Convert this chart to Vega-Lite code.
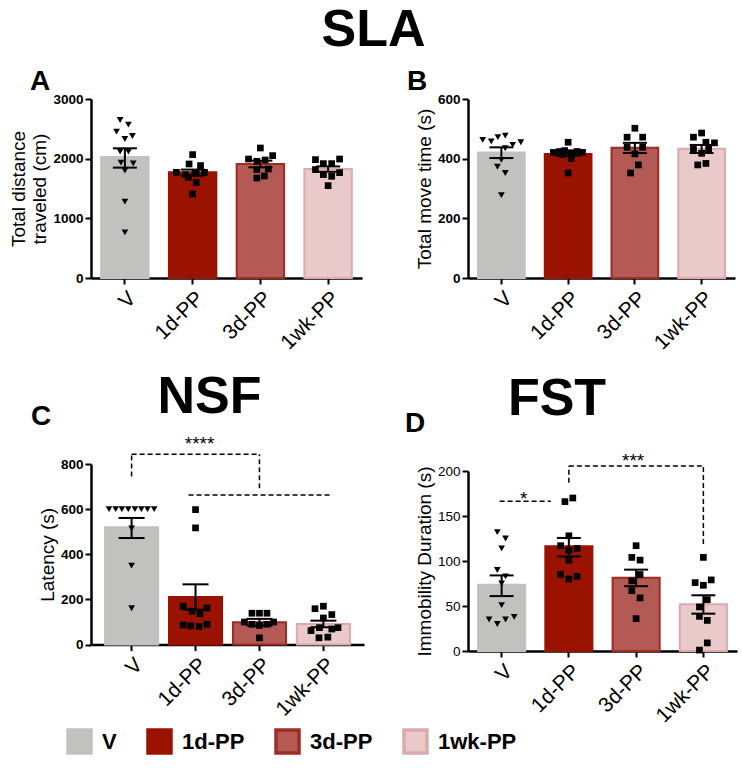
{
  "$schema": "https://vega.github.io/schema/vega-lite/v6.json",
  "padding": {"left": 9, "top": 4, "right": 5, "bottom": 5},
  "background": "white",
  "title": {"text": "SLA", "anchor": "middle", "frame": "bounds", "fontSize": 52, "font": "Liberation Sans", "fontWeight": "bold", "color": "black", "offset": 11},
  "columns": 2,
  "bounds": "flush",
  "spacing": {"row": 186, "column": 106},
  "resolve": {"scale": {"x": "independent", "y": "independent", "xOffset": "independent", "color": "shared", "stroke": "shared"}, "legend": {"color": "shared", "stroke": "shared"}},
  "datasets": {
    "pts": [
      {"p": "A", "g": "V", "v": 2648, "o": -1.2}, {"p": "A", "g": "V", "v": 2571, "o": 0.9}, {"p": "A", "g": "V", "v": 2454, "o": -2.1}, {"p": "A", "g": "V", "v": 2380, "o": 1.9}, {"p": "A", "g": "V", "v": 2330, "o": 0}, {"p": "A", "g": "V", "v": 2118, "o": -1.2}, {"p": "A", "g": "V", "v": 2118, "o": 0.9}, {"p": "A", "g": "V", "v": 1934, "o": -1}, {"p": "A", "g": "V", "v": 1922, "o": 2.1}, {"p": "A", "g": "V", "v": 1800, "o": 0}, {"p": "A", "g": "V", "v": 1280, "o": 0}, {"p": "A", "g": "V", "v": 766, "o": 0},
      {"p": "A", "g": "1d-PP", "v": 2068, "o": 0}, {"p": "A", "g": "1d-PP", "v": 1911, "o": -0.9}, {"p": "A", "g": "1d-PP", "v": 1884, "o": 2}, {"p": "A", "g": "1d-PP", "v": 1771, "o": -4.1}, {"p": "A", "g": "1d-PP", "v": 1755, "o": 0.9}, {"p": "A", "g": "1d-PP", "v": 1771, "o": 3}, {"p": "A", "g": "1d-PP", "v": 1733, "o": -1.8}, {"p": "A", "g": "1d-PP", "v": 1688, "o": -1.1}, {"p": "A", "g": "1d-PP", "v": 1599, "o": 0.9}, {"p": "A", "g": "1d-PP", "v": 1408, "o": 0},
      {"p": "A", "g": "3d-PP", "v": 2179, "o": 0}, {"p": "A", "g": "3d-PP", "v": 2051, "o": 3.1}, {"p": "A", "g": "3d-PP", "v": 1994, "o": -3}, {"p": "A", "g": "3d-PP", "v": 1956, "o": -0.9}, {"p": "A", "g": "3d-PP", "v": 1978, "o": 1.2}, {"p": "A", "g": "3d-PP", "v": 1817, "o": -0.9}, {"p": "A", "g": "3d-PP", "v": 1827, "o": 2}, {"p": "A", "g": "3d-PP", "v": 1676, "o": -0.9}, {"p": "A", "g": "3d-PP", "v": 1710, "o": 1},
      {"p": "A", "g": "1wk-PP", "v": 1984, "o": -3.2}, {"p": "A", "g": "1wk-PP", "v": 1994, "o": 2.9}, {"p": "A", "g": "1wk-PP", "v": 1917, "o": -1.2}, {"p": "A", "g": "1wk-PP", "v": 1917, "o": 0.9}, {"p": "A", "g": "1wk-PP", "v": 1817, "o": -3.2}, {"p": "A", "g": "1wk-PP", "v": 1766, "o": 2.9}, {"p": "A", "g": "1wk-PP", "v": 1733, "o": -1.2}, {"p": "A", "g": "1wk-PP", "v": 1704, "o": 0.9}, {"p": "A", "g": "1wk-PP", "v": 1548, "o": 0},
      {"p": "B", "g": "V", "v": 463, "o": -4.8}, {"p": "B", "g": "V", "v": 458, "o": -2.6}, {"p": "B", "g": "V", "v": 472, "o": -0.9}, {"p": "B", "g": "V", "v": 477, "o": 1}, {"p": "B", "g": "V", "v": 455, "o": 5}, {"p": "B", "g": "V", "v": 446, "o": 2.9}, {"p": "B", "g": "V", "v": 435, "o": 1}, {"p": "B", "g": "V", "v": 396, "o": 0}, {"p": "B", "g": "V", "v": 373, "o": -1}, {"p": "B", "g": "V", "v": 352, "o": 1}, {"p": "B", "g": "V", "v": 278, "o": 0},
      {"p": "B", "g": "1d-PP", "v": 455, "o": 0}, {"p": "B", "g": "1d-PP", "v": 421, "o": -3.8}, {"p": "B", "g": "1d-PP", "v": 424, "o": -2.2}, {"p": "B", "g": "1d-PP", "v": 427, "o": -0.9}, {"p": "B", "g": "1d-PP", "v": 420, "o": 0.8}, {"p": "B", "g": "1d-PP", "v": 424, "o": 2.3}, {"p": "B", "g": "1d-PP", "v": 421, "o": 3.7}, {"p": "B", "g": "1d-PP", "v": 401, "o": 0.8}, {"p": "B", "g": "1d-PP", "v": 414, "o": -1.5}, {"p": "B", "g": "1d-PP", "v": 352, "o": 0},
      {"p": "B", "g": "3d-PP", "v": 502, "o": 0}, {"p": "B", "g": "3d-PP", "v": 472, "o": -2}, {"p": "B", "g": "3d-PP", "v": 472, "o": 2}, {"p": "B", "g": "3d-PP", "v": 438, "o": -2}, {"p": "B", "g": "3d-PP", "v": 438, "o": 2}, {"p": "B", "g": "3d-PP", "v": 416, "o": 0}, {"p": "B", "g": "3d-PP", "v": 379, "o": 0.9}, {"p": "B", "g": "3d-PP", "v": 352, "o": -1.1},
      {"p": "B", "g": "1wk-PP", "v": 486, "o": 0}, {"p": "B", "g": "1wk-PP", "v": 472, "o": -2.1}, {"p": "B", "g": "1wk-PP", "v": 455, "o": 1.1}, {"p": "B", "g": "1wk-PP", "v": 453, "o": 3.3}, {"p": "B", "g": "1wk-PP", "v": 432, "o": -2.1}, {"p": "B", "g": "1wk-PP", "v": 432, "o": 1.8}, {"p": "B", "g": "1wk-PP", "v": 418, "o": 0}, {"p": "B", "g": "1wk-PP", "v": 379, "o": -1}, {"p": "B", "g": "1wk-PP", "v": 384, "o": 1.1},
      {"p": "C", "g": "V", "v": 600, "o": -5.1}, {"p": "C", "g": "V", "v": 600, "o": -3.6}, {"p": "C", "g": "V", "v": 600, "o": -2.2}, {"p": "C", "g": "V", "v": 600, "o": -0.75}, {"p": "C", "g": "V", "v": 600, "o": 0.75}, {"p": "C", "g": "V", "v": 600, "o": 2.2}, {"p": "C", "g": "V", "v": 600, "o": 3.6}, {"p": "C", "g": "V", "v": 600, "o": 5.1}, {"p": "C", "g": "V", "v": 515, "o": 0}, {"p": "C", "g": "V", "v": 350, "o": 0}, {"p": "C", "g": "V", "v": 161, "o": 0},
      {"p": "C", "g": "1d-PP", "v": 598, "o": 0}, {"p": "C", "g": "1d-PP", "v": 517, "o": 0}, {"p": "C", "g": "1d-PP", "v": 170, "o": -2.8}, {"p": "C", "g": "1d-PP", "v": 148, "o": -0.8}, {"p": "C", "g": "1d-PP", "v": 136, "o": 1}, {"p": "C", "g": "1d-PP", "v": 162, "o": 2.6}, {"p": "C", "g": "1d-PP", "v": 87, "o": -2.8}, {"p": "C", "g": "1d-PP", "v": 83, "o": -1.1}, {"p": "C", "g": "1d-PP", "v": 81, "o": 0.8}, {"p": "C", "g": "1d-PP", "v": 90, "o": 2.6},
      {"p": "C", "g": "3d-PP", "v": 139, "o": -1.7}, {"p": "C", "g": "3d-PP", "v": 139, "o": 0}, {"p": "C", "g": "3d-PP", "v": 139, "o": 1.7}, {"p": "C", "g": "3d-PP", "v": 100, "o": -3.4}, {"p": "C", "g": "3d-PP", "v": 90, "o": -1.7}, {"p": "C", "g": "3d-PP", "v": 85, "o": 0}, {"p": "C", "g": "3d-PP", "v": 90, "o": 1.7}, {"p": "C", "g": "3d-PP", "v": 100, "o": 3.2}, {"p": "C", "g": "3d-PP", "v": 30, "o": 0},
      {"p": "C", "g": "1wk-PP", "v": 159, "o": -1.9}, {"p": "C", "g": "1wk-PP", "v": 170, "o": 0}, {"p": "C", "g": "1wk-PP", "v": 133, "o": 1.9}, {"p": "C", "g": "1wk-PP", "v": 118, "o": 0}, {"p": "C", "g": "1wk-PP", "v": 62, "o": -2.8}, {"p": "C", "g": "1wk-PP", "v": 75, "o": -0.9}, {"p": "C", "g": "1wk-PP", "v": 69, "o": 1.9}, {"p": "C", "g": "1wk-PP", "v": 75, "o": 3.3}, {"p": "C", "g": "1wk-PP", "v": 30, "o": -1}, {"p": "C", "g": "1wk-PP", "v": 33, "o": 1},
      {"p": "D", "g": "V", "v": 132, "o": -1.1}, {"p": "D", "g": "V", "v": 125, "o": 1}, {"p": "D", "g": "V", "v": 114, "o": 0}, {"p": "D", "g": "V", "v": 90, "o": -1.1}, {"p": "D", "g": "V", "v": 83, "o": 1}, {"p": "D", "g": "V", "v": 75, "o": 0}, {"p": "D", "g": "V", "v": 51, "o": 0}, {"p": "D", "g": "V", "v": 35, "o": -3.2}, {"p": "D", "g": "V", "v": 30, "o": -1.1}, {"p": "D", "g": "V", "v": 35, "o": 1}, {"p": "D", "g": "V", "v": 38, "o": 3.2},
      {"p": "D", "g": "1d-PP", "v": 166, "o": -1}, {"p": "D", "g": "1d-PP", "v": 170, "o": 1}, {"p": "D", "g": "1d-PP", "v": 128, "o": 0}, {"p": "D", "g": "1d-PP", "v": 117, "o": -2.1}, {"p": "D", "g": "1d-PP", "v": 114, "o": 2.1}, {"p": "D", "g": "1d-PP", "v": 112, "o": 0}, {"p": "D", "g": "1d-PP", "v": 101, "o": 0}, {"p": "D", "g": "1d-PP", "v": 85, "o": -2.1}, {"p": "D", "g": "1d-PP", "v": 80, "o": 0}, {"p": "D", "g": "1d-PP", "v": 83, "o": 2.1},
      {"p": "D", "g": "3d-PP", "v": 117, "o": 0}, {"p": "D", "g": "3d-PP", "v": 104, "o": -1.1}, {"p": "D", "g": "3d-PP", "v": 101, "o": 1}, {"p": "D", "g": "3d-PP", "v": 85, "o": 1}, {"p": "D", "g": "3d-PP", "v": 78, "o": -1.1}, {"p": "D", "g": "3d-PP", "v": 67, "o": -1.1}, {"p": "D", "g": "3d-PP", "v": 59, "o": 1}, {"p": "D", "g": "3d-PP", "v": 36, "o": 0},
      {"p": "D", "g": "1wk-PP", "v": 104, "o": 0}, {"p": "D", "g": "1wk-PP", "v": 76, "o": -2.1}, {"p": "D", "g": "1wk-PP", "v": 73, "o": 0}, {"p": "D", "g": "1wk-PP", "v": 79, "o": 2}, {"p": "D", "g": "1wk-PP", "v": 57, "o": 1}, {"p": "D", "g": "1wk-PP", "v": 49, "o": -1}, {"p": "D", "g": "1wk-PP", "v": 38.5, "o": -1}, {"p": "D", "g": "1wk-PP", "v": 34, "o": 1}, {"p": "D", "g": "1wk-PP", "v": 9, "o": 1}, {"p": "D", "g": "1wk-PP", "v": 1, "o": -1}
    ],
    "bars": [
      {"p": "A", "g": "V", "m": 2030, "lo": 1850, "hi": 2174}, {"p": "A", "g": "1d-PP", "m": 1771, "lo": 1716, "hi": 1817}, {"p": "A", "g": "3d-PP", "m": 1911, "lo": 1855, "hi": 1967}, {"p": "A", "g": "1wk-PP", "m": 1827, "lo": 1780, "hi": 1870},
      {"p": "B", "g": "V", "m": 421, "lo": 402, "hi": 438}, {"p": "B", "g": "1d-PP", "m": 416, "lo": 410, "hi": 423}, {"p": "B", "g": "3d-PP", "m": 437, "lo": 419, "hi": 453}, {"p": "B", "g": "1wk-PP", "m": 433, "lo": 419, "hi": 446},
      {"p": "C", "g": "V", "m": 520, "lo": 472, "hi": 561}, {"p": "C", "g": "1d-PP", "m": 211, "lo": 155, "hi": 267}, {"p": "C", "g": "3d-PP", "m": 99, "lo": 84, "hi": 114}, {"p": "C", "g": "1wk-PP", "m": 91.5, "lo": 77, "hi": 106},
      {"p": "D", "g": "V", "m": 73.7, "lo": 61, "hi": 84}, {"p": "D", "g": "1d-PP", "m": 116.3, "lo": 105, "hi": 125.6}, {"p": "D", "g": "3d-PP", "m": 81.5, "lo": 72, "hi": 90.4}, {"p": "D", "g": "1wk-PP", "m": 51.9, "lo": 41.5, "hi": 61.9}
    ]
  },
  "concat": [
    {
      "width": 271, "height": 179,
      "title": {"text": "A", "anchor": "start", "frame": "group", "dx": -61, "fontSize": 28, "fontWeight": "bold", "color": "black", "offset": -4},
      "resolve": {"scale": {"xOffset": "independent"}},
      "layer": [
        {"data": {"name": "bars"}, "transform": [{"filter": "datum.p === 'A'"}],
         "mark": {"type": "bar", "strokeWidth": 2},
         "encoding": {
           "x": {"field": "g", "type": "nominal", "scale": {"domain": ["V", "1d-PP", "3d-PP", "1wk-PP"], "paddingInner": 0.3, "paddingOuter": 0.15}, "axis": {"title": null}},
           "y": {"field": "m", "type": "quantitative", "title": ["Total distance", "traveled (cm)"], "scale": {"domain": [0, 3000], "nice": false}, "axis": {"values": [0, 1000, 2000, 3000], "format": "d"}},
           "color": {"field": "g", "type": "nominal", "scale": {"domain": ["V", "1d-PP", "3d-PP", "1wk-PP"], "range": ["#c1c1bf", "#991300", "#b35a55", "#e9c9c9"]},
             "legend": {"orient": "none", "legendX": -25, "legendY": 629, "direction": "horizontal", "title": null, "symbolType": "square", "symbolSize": 529, "symbolStrokeWidth": 3.5, "symbolOpacity": 1, "labelFontSize": 22, "labelFont": "Liberation Sans", "labelFontWeight": "bold", "labelColor": "black", "labelOffset": 9, "columnPadding": 24}},
           "stroke": {"field": "g", "type": "nominal", "scale": {"domain": ["V", "1d-PP", "3d-PP", "1wk-PP"], "range": ["#c1c1bf", "#991300", "#a02b22", "#dcaaaa"]}}
         }},
        {"data": {"name": "pts"}, "transform": [{"filter": "datum.p === 'A' && datum.g === 'V'"}],
         "mark": {"type": "point", "shape": "triangle-down", "filled": true, "color": "black", "opacity": 1, "size": 45},
         "encoding": {
           "x": {"field": "g", "type": "nominal", "scale": {"domain": ["V", "1d-PP", "3d-PP", "1wk-PP"], "paddingInner": 0.3, "paddingOuter": 0.15}},
           "xOffset": {"field": "o", "type": "quantitative", "scale": {"domain": [-6, 6]}},
           "y": {"field": "v", "type": "quantitative", "title": ["Total distance", "traveled (cm)"], "scale": {"domain": [0, 3000], "nice": false}}
         }},
        {"data": {"name": "pts"}, "transform": [{"filter": "datum.p === 'A' && datum.g !== 'V'"}],
         "mark": {"type": "point", "shape": "square", "filled": true, "color": "black", "opacity": 1, "size": 45},
         "encoding": {
           "x": {"field": "g", "type": "nominal", "scale": {"domain": ["V", "1d-PP", "3d-PP", "1wk-PP"], "paddingInner": 0.3, "paddingOuter": 0.15}},
           "xOffset": {"field": "o", "type": "quantitative", "scale": {"domain": [-6, 6]}},
           "y": {"field": "v", "type": "quantitative", "title": ["Total distance", "traveled (cm)"], "scale": {"domain": [0, 3000], "nice": false}}
         }},
        {"data": {"name": "bars"}, "transform": [{"filter": "datum.p === 'A'"}],
         "mark": {"type": "rule", "strokeWidth": 2, "color": "black"},
         "encoding": {
           "x": {"field": "g", "type": "nominal", "scale": {"domain": ["V", "1d-PP", "3d-PP", "1wk-PP"], "paddingInner": 0.3, "paddingOuter": 0.15}},
           "y": {"field": "lo", "type": "quantitative", "title": ["Total distance", "traveled (cm)"], "scale": {"domain": [0, 3000], "nice": false}},
           "y2": {"field": "hi"}
         }},
        {"data": {"name": "bars"}, "transform": [{"filter": "datum.p === 'A'"}, {"fold": ["lo", "hi"], "as": ["k", "e"]}],
         "mark": {"type": "tick", "thickness": 2, "size": 24, "color": "black", "opacity": 1},
         "encoding": {
           "x": {"field": "g", "type": "nominal", "scale": {"domain": ["V", "1d-PP", "3d-PP", "1wk-PP"], "paddingInner": 0.3, "paddingOuter": 0.15}},
           "y": {"field": "e", "type": "quantitative", "title": ["Total distance", "traveled (cm)"], "scale": {"domain": [0, 3000], "nice": false}}
         }}
      ]
    },
    {
      "width": 267, "height": 179,
      "title": {"text": "B", "anchor": "start", "frame": "group", "dx": -61, "fontSize": 28, "fontWeight": "bold", "color": "black", "offset": -4},
      "resolve": {"scale": {"xOffset": "independent"}},
      "layer": [
        {"data": {"name": "bars"}, "transform": [{"filter": "datum.p === 'B'"}],
         "mark": {"type": "bar", "strokeWidth": 2},
         "encoding": {
           "x": {"field": "g", "type": "nominal", "scale": {"domain": ["V", "1d-PP", "3d-PP", "1wk-PP"], "paddingInner": 0.3, "paddingOuter": 0.15}, "axis": {"title": null}},
           "y": {"field": "m", "type": "quantitative", "title": "Total move time (s)", "scale": {"domain": [0, 600], "nice": false}, "axis": {"values": [0, 200, 400, 600], "format": "d"}},
           "color": {"field": "g", "type": "nominal", "scale": {"domain": ["V", "1d-PP", "3d-PP", "1wk-PP"], "range": ["#c1c1bf", "#991300", "#b35a55", "#e9c9c9"]}},
           "stroke": {"field": "g", "type": "nominal", "scale": {"domain": ["V", "1d-PP", "3d-PP", "1wk-PP"], "range": ["#c1c1bf", "#991300", "#a02b22", "#dcaaaa"]}}
         }},
        {"data": {"name": "pts"}, "transform": [{"filter": "datum.p === 'B' && datum.g === 'V'"}],
         "mark": {"type": "point", "shape": "triangle-down", "filled": true, "color": "black", "opacity": 1, "size": 45},
         "encoding": {
           "x": {"field": "g", "type": "nominal", "scale": {"domain": ["V", "1d-PP", "3d-PP", "1wk-PP"], "paddingInner": 0.3, "paddingOuter": 0.15}},
           "xOffset": {"field": "o", "type": "quantitative", "scale": {"domain": [-6, 6]}},
           "y": {"field": "v", "type": "quantitative", "title": "Total move time (s)", "scale": {"domain": [0, 600], "nice": false}}
         }},
        {"data": {"name": "pts"}, "transform": [{"filter": "datum.p === 'B' && datum.g !== 'V'"}],
         "mark": {"type": "point", "shape": "square", "filled": true, "color": "black", "opacity": 1, "size": 45},
         "encoding": {
           "x": {"field": "g", "type": "nominal", "scale": {"domain": ["V", "1d-PP", "3d-PP", "1wk-PP"], "paddingInner": 0.3, "paddingOuter": 0.15}},
           "xOffset": {"field": "o", "type": "quantitative", "scale": {"domain": [-6, 6]}},
           "y": {"field": "v", "type": "quantitative", "title": "Total move time (s)", "scale": {"domain": [0, 600], "nice": false}}
         }},
        {"data": {"name": "bars"}, "transform": [{"filter": "datum.p === 'B'"}],
         "mark": {"type": "rule", "strokeWidth": 2, "color": "black"},
         "encoding": {
           "x": {"field": "g", "type": "nominal", "scale": {"domain": ["V", "1d-PP", "3d-PP", "1wk-PP"], "paddingInner": 0.3, "paddingOuter": 0.15}},
           "y": {"field": "lo", "type": "quantitative", "title": "Total move time (s)", "scale": {"domain": [0, 600], "nice": false}},
           "y2": {"field": "hi"}
         }},
        {"data": {"name": "bars"}, "transform": [{"filter": "datum.p === 'B'"}, {"fold": ["lo", "hi"], "as": ["k", "e"]}],
         "mark": {"type": "tick", "thickness": 2, "size": 24, "color": "black", "opacity": 1},
         "encoding": {
           "x": {"field": "g", "type": "nominal", "scale": {"domain": ["V", "1d-PP", "3d-PP", "1wk-PP"], "paddingInner": 0.3, "paddingOuter": 0.15}},
           "y": {"field": "e", "type": "quantitative", "title": "Total move time (s)", "scale": {"domain": [0, 600], "nice": false}}
         }}
      ]
    },
    {
      "title": {"text": "NSF", "anchor": "middle", "frame": "bounds", "fontSize": 52, "font": "Liberation Sans", "fontWeight": "bold", "color": "black", "offset": -21, "dx": 12},
      "bounds": "flush",
      "vconcat": [
        {
          "width": 273, "height": 180.6,
          "title": {"text": "C", "anchor": "start", "frame": "group", "dx": -60, "fontSize": 28, "fontWeight": "bold", "color": "black", "offset": 4},
          "resolve": {"scale": {"xOffset": "independent"}},
          "layer": [
            {"data": {"name": "bars"}, "transform": [{"filter": "datum.p === 'C'"}],
             "mark": {"type": "bar", "strokeWidth": 2},
             "encoding": {
               "x": {"field": "g", "type": "nominal", "scale": {"domain": ["V", "1d-PP", "3d-PP", "1wk-PP"], "paddingInner": 0.17, "paddingOuter": 0.22}, "axis": {"title": null}},
               "y": {"field": "m", "type": "quantitative", "title": "Latency (s)", "scale": {"domain": [0, 800], "nice": false}, "axis": {"values": [0, 200, 400, 600, 800], "format": "d"}},
               "color": {"field": "g", "type": "nominal", "scale": {"domain": ["V", "1d-PP", "3d-PP", "1wk-PP"], "range": ["#c1c1bf", "#991300", "#b35a55", "#e9c9c9"]}},
               "stroke": {"field": "g", "type": "nominal", "scale": {"domain": ["V", "1d-PP", "3d-PP", "1wk-PP"], "range": ["#c1c1bf", "#991300", "#a02b22", "#dcaaaa"]}}
             }},
            {"data": {"name": "pts"}, "transform": [{"filter": "datum.p === 'C' && datum.g === 'V'"}],
             "mark": {"type": "point", "shape": "triangle-down", "filled": true, "color": "black", "opacity": 1, "size": 45},
             "encoding": {
               "x": {"field": "g", "type": "nominal", "scale": {"domain": ["V", "1d-PP", "3d-PP", "1wk-PP"], "paddingInner": 0.17, "paddingOuter": 0.22}},
               "xOffset": {"field": "o", "type": "quantitative", "scale": {"domain": [-6, 6]}},
               "y": {"field": "v", "type": "quantitative", "title": "Latency (s)", "scale": {"domain": [0, 800], "nice": false}}
             }},
            {"data": {"name": "pts"}, "transform": [{"filter": "datum.p === 'C' && datum.g !== 'V'"}],
             "mark": {"type": "point", "shape": "square", "filled": true, "color": "black", "opacity": 1, "size": 45},
             "encoding": {
               "x": {"field": "g", "type": "nominal", "scale": {"domain": ["V", "1d-PP", "3d-PP", "1wk-PP"], "paddingInner": 0.17, "paddingOuter": 0.22}},
               "xOffset": {"field": "o", "type": "quantitative", "scale": {"domain": [-6, 6]}},
               "y": {"field": "v", "type": "quantitative", "title": "Latency (s)", "scale": {"domain": [0, 800], "nice": false}}
             }},
            {"data": {"name": "bars"}, "transform": [{"filter": "datum.p === 'C'"}],
             "mark": {"type": "rule", "strokeWidth": 2, "color": "black"},
             "encoding": {
               "x": {"field": "g", "type": "nominal", "scale": {"domain": ["V", "1d-PP", "3d-PP", "1wk-PP"], "paddingInner": 0.17, "paddingOuter": 0.22}},
               "y": {"field": "lo", "type": "quantitative", "title": "Latency (s)", "scale": {"domain": [0, 800], "nice": false}},
               "y2": {"field": "hi"}
             }},
            {"data": {"name": "bars"}, "transform": [{"filter": "datum.p === 'C'"}, {"fold": ["lo", "hi"], "as": ["k", "e"]}],
             "mark": {"type": "tick", "thickness": 2, "size": 26, "color": "black", "opacity": 1},
             "encoding": {
               "x": {"field": "g", "type": "nominal", "scale": {"domain": ["V", "1d-PP", "3d-PP", "1wk-PP"], "paddingInner": 0.17, "paddingOuter": 0.22}},
               "y": {"field": "e", "type": "quantitative", "title": "Latency (s)", "scale": {"domain": [0, 800], "nice": false}}
             }},
            {"data": {"values": [
               {"a": "V", "b": "V", "y": 745, "y2": 843},
               {"a": "V", "b": "3d-PP", "y": 843, "y2": 843},
               {"a": "3d-PP", "b": "3d-PP", "y": 693, "y2": 843}
             ]},
             "mark": {"type": "rule", "strokeWidth": 1.5, "color": "black", "strokeDash": [5, 3]},
             "encoding": {
               "x": {"field": "a", "type": "nominal", "scale": {"domain": ["V", "1d-PP", "3d-PP", "1wk-PP"], "paddingInner": 0.17, "paddingOuter": 0.22}},
               "x2": {"field": "b"},
               "y": {"field": "y", "type": "quantitative", "title": "Latency (s)", "scale": {"domain": [0, 800], "nice": false}},
               "y2": {"field": "y2"}
             }},
            {"data": {"values": [{"a": "1d-PP", "b": "1wk-PP", "y": 663}]},
             "mark": {"type": "rule", "strokeWidth": 1.5, "color": "black", "strokeDash": [5, 3], "xOffset": -7, "x2Offset": 7},
             "encoding": {
               "x": {"field": "a", "type": "nominal", "scale": {"domain": ["V", "1d-PP", "3d-PP", "1wk-PP"], "paddingInner": 0.17, "paddingOuter": 0.22}},
               "x2": {"field": "b"},
               "y": {"field": "y", "type": "quantitative", "title": "Latency (s)", "scale": {"domain": [0, 800], "nice": false}}
             }},
            {"data": {"values": [{"a": "1d-PP", "y": 860, "t": "****"}]},
             "mark": {"type": "text", "fontSize": 19, "baseline": "alphabetic", "color": "black", "dx": 4},
             "encoding": {
               "x": {"field": "a", "type": "nominal", "scale": {"domain": ["V", "1d-PP", "3d-PP", "1wk-PP"], "paddingInner": 0.17, "paddingOuter": 0.22}},
               "y": {"field": "y", "type": "quantitative", "title": "Latency (s)", "scale": {"domain": [0, 800], "nice": false}},
               "text": {"field": "t"}
             }}
          ]
        }
      ]
    },
    {
      "title": {"text": "FST", "anchor": "middle", "frame": "bounds", "fontSize": 52, "font": "Liberation Sans", "fontWeight": "bold", "color": "black", "offset": -16, "dx": -14},
      "bounds": "flush",
      "vconcat": [
        {
          "width": 269, "height": 187,
          "title": {"text": "D", "anchor": "start", "frame": "group", "dx": -63, "fontSize": 28, "fontWeight": "bold", "color": "black", "offset": 14},
          "resolve": {"scale": {"xOffset": "independent"}},
          "layer": [
            {"data": {"name": "bars"}, "transform": [{"filter": "datum.p === 'D'"}],
             "mark": {"type": "bar", "strokeWidth": 2},
             "encoding": {
               "x": {"field": "g", "type": "nominal", "scale": {"domain": ["V", "1d-PP", "3d-PP", "1wk-PP"], "paddingInner": 0.3, "paddingOuter": 0.15}, "axis": {"title": null}},
               "y": {"field": "m", "type": "quantitative", "title": "Immobility Duration (s)", "scale": {"domain": [0, 200], "range": [187, 7], "nice": false}, "axis": {"values": [0, 50, 100, 150, 200], "labelFontWeight": "normal", "format": "d"}},
               "color": {"field": "g", "type": "nominal", "scale": {"domain": ["V", "1d-PP", "3d-PP", "1wk-PP"], "range": ["#c1c1bf", "#991300", "#b35a55", "#e9c9c9"]}},
               "stroke": {"field": "g", "type": "nominal", "scale": {"domain": ["V", "1d-PP", "3d-PP", "1wk-PP"], "range": ["#c1c1bf", "#991300", "#a02b22", "#dcaaaa"]}}
             }},
            {"data": {"name": "pts"}, "transform": [{"filter": "datum.p === 'D' && datum.g === 'V'"}],
             "mark": {"type": "point", "shape": "triangle-down", "filled": true, "color": "black", "opacity": 1, "size": 45},
             "encoding": {
               "x": {"field": "g", "type": "nominal", "scale": {"domain": ["V", "1d-PP", "3d-PP", "1wk-PP"], "paddingInner": 0.3, "paddingOuter": 0.15}},
               "xOffset": {"field": "o", "type": "quantitative", "scale": {"domain": [-6, 6]}},
               "y": {"field": "v", "type": "quantitative", "title": "Immobility Duration (s)", "scale": {"domain": [0, 200], "range": [187, 7], "nice": false}}
             }},
            {"data": {"name": "pts"}, "transform": [{"filter": "datum.p === 'D' && datum.g !== 'V'"}],
             "mark": {"type": "point", "shape": "square", "filled": true, "color": "black", "opacity": 1, "size": 45},
             "encoding": {
               "x": {"field": "g", "type": "nominal", "scale": {"domain": ["V", "1d-PP", "3d-PP", "1wk-PP"], "paddingInner": 0.3, "paddingOuter": 0.15}},
               "xOffset": {"field": "o", "type": "quantitative", "scale": {"domain": [-6, 6]}},
               "y": {"field": "v", "type": "quantitative", "title": "Immobility Duration (s)", "scale": {"domain": [0, 200], "range": [187, 7], "nice": false}}
             }},
            {"data": {"name": "bars"}, "transform": [{"filter": "datum.p === 'D'"}],
             "mark": {"type": "rule", "strokeWidth": 2, "color": "black"},
             "encoding": {
               "x": {"field": "g", "type": "nominal", "scale": {"domain": ["V", "1d-PP", "3d-PP", "1wk-PP"], "paddingInner": 0.3, "paddingOuter": 0.15}},
               "y": {"field": "lo", "type": "quantitative", "title": "Immobility Duration (s)", "scale": {"domain": [0, 200], "range": [187, 7], "nice": false}},
               "y2": {"field": "hi"}
             }},
            {"data": {"name": "bars"}, "transform": [{"filter": "datum.p === 'D'"}, {"fold": ["lo", "hi"], "as": ["k", "e"]}],
             "mark": {"type": "tick", "thickness": 2, "size": 24, "color": "black", "opacity": 1},
             "encoding": {
               "x": {"field": "g", "type": "nominal", "scale": {"domain": ["V", "1d-PP", "3d-PP", "1wk-PP"], "paddingInner": 0.3, "paddingOuter": 0.15}},
               "y": {"field": "e", "type": "quantitative", "title": "Immobility Duration (s)", "scale": {"domain": [0, 200], "range": [187, 7], "nice": false}}
             }},
            {"data": {"values": [
               {"a": "1d-PP", "b": "1d-PP", "y": 187, "y2": 205.5},
               {"a": "1d-PP", "b": "1wk-PP", "y": 205.5, "y2": 205.5},
               {"a": "1wk-PP", "b": "1wk-PP", "y": 119, "y2": 205.5}
             ]},
             "mark": {"type": "rule", "strokeWidth": 1.5, "color": "black", "strokeDash": [5, 3]},
             "encoding": {
               "x": {"field": "a", "type": "nominal", "scale": {"domain": ["V", "1d-PP", "3d-PP", "1wk-PP"], "paddingInner": 0.3, "paddingOuter": 0.15}},
               "x2": {"field": "b"},
               "y": {"field": "y", "type": "quantitative", "title": "Immobility Duration (s)", "scale": {"domain": [0, 200], "range": [187, 7], "nice": false}},
               "y2": {"field": "y2"}
             }},
            {"data": {"values": [{"a": "V", "b": "1d-PP", "y": 166.3}]},
             "mark": {"type": "rule", "strokeWidth": 1.5, "color": "black", "strokeDash": [5, 3], "xOffset": -2, "x2Offset": -18},
             "encoding": {
               "x": {"field": "a", "type": "nominal", "scale": {"domain": ["V", "1d-PP", "3d-PP", "1wk-PP"], "paddingInner": 0.3, "paddingOuter": 0.15}},
               "x2": {"field": "b"},
               "y": {"field": "y", "type": "quantitative", "title": "Immobility Duration (s)", "scale": {"domain": [0, 200], "range": [187, 7], "nice": false}}
             }},
            {"data": {"values": [{"a": "3d-PP", "y": 204.4, "t": "***"}]},
             "mark": {"type": "text", "fontSize": 19, "baseline": "alphabetic", "color": "black", "dx": -3},
             "encoding": {
               "x": {"field": "a", "type": "nominal", "scale": {"domain": ["V", "1d-PP", "3d-PP", "1wk-PP"], "paddingInner": 0.3, "paddingOuter": 0.15}},
               "y": {"field": "y", "type": "quantitative", "title": "Immobility Duration (s)", "scale": {"domain": [0, 200], "range": [187, 7], "nice": false}},
               "text": {"field": "t"}
             }},
            {"data": {"values": [{"a": "V", "y": 162, "t": "*"}]},
             "mark": {"type": "text", "fontSize": 19, "baseline": "alphabetic", "color": "black", "dx": 22},
             "encoding": {
               "x": {"field": "a", "type": "nominal", "scale": {"domain": ["V", "1d-PP", "3d-PP", "1wk-PP"], "paddingInner": 0.3, "paddingOuter": 0.15}},
               "y": {"field": "y", "type": "quantitative", "title": "Immobility Duration (s)", "scale": {"domain": [0, 200], "range": [187, 7], "nice": false}},
               "text": {"field": "t"}
             }}
          ]
        }
      ]
    }
  ],
  "config": {
    "font": "Liberation Sans",
    "view": {"stroke": null},
    "axis": {"domainColor": "black", "domainWidth": 2.5, "tickColor": "black", "tickWidth": 2, "tickSize": 6, "labelColor": "black", "titleColor": "black", "grid": false, "labelFont": "Liberation Sans", "titleFont": "Liberation Sans", "titleFontWeight": "normal", "titleFontSize": 19, "labelFontSize": 13.5, "labelFontWeight": "bold", "labelPadding": 2, "titlePadding": 3},
    "axisY": {"titleFontSize": 19, "titleFontWeight": "normal"},
    "axisX": {"labelAngle": -45, "labelFontSize": 21, "labelFontWeight": "normal", "labelPadding": 3},
    "title": {"color": "black"}
  }
}
